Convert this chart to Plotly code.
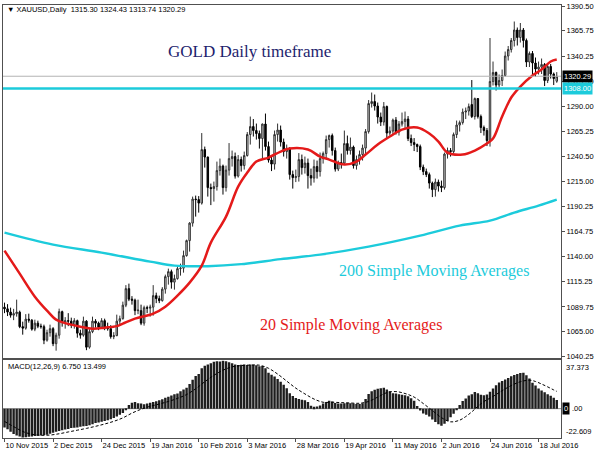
import plotly.graph_objects as go
from plotly.subplots import make_subplots

# XAUUSD daily bars, 10 Nov 2015 .. 26 Jul 2016 (bar index 0..182)
open_ = [1089.5, 1087.8, 1084.6, 1081.5, 1083.0, 1084.5, 1070.0, 1068.5, 1077.5, 1076.5,
         1067.5, 1073.5, 1070.5, 1070.0, 1056.5, 1064.0, 1068.0, 1053.0, 1061.5, 1085.0,
         1074.5, 1076.0, 1075.5, 1071.5, 1076.0, 1063.5, 1061.5, 1075.5, 1049.5, 1065.0,
         1075.5, 1073.5, 1069.5, 1076.0, 1068.5, 1068.0, 1060.0, 1061.0, 1075.5, 1078.0,
         1091.5, 1108.0, 1097.5, 1096.5, 1086.0, 1086.0, 1073.5, 1089.0, 1088.5, 1089.5,
         1101.0, 1098.0, 1096.0, 1107.5, 1120.0, 1125.0, 1114.5, 1118.0, 1128.0, 1128.5,
         1141.0, 1156.0, 1173.5, 1197.5, 1197.0, 1193.5, 1247.0, 1239.5, 1209.0, 1208.0,
         1210.0, 1226.0, 1230.5, 1209.0, 1226.5, 1238.0, 1240.0, 1220.5, 1237.0, 1231.0,
         1241.0, 1262.0, 1270.0, 1266.0, 1263.0, 1258.0, 1272.5, 1250.0, 1236.5, 1232.5,
         1262.0, 1266.5, 1254.5, 1245.0, 1248.0, 1222.0, 1219.0, 1220.0, 1237.0, 1229.0,
         1233.5, 1221.0, 1218.5, 1230.0, 1225.0, 1238.0, 1243.0, 1257.0, 1261.0, 1246.0,
         1227.5, 1234.0, 1233.5, 1253.0, 1246.0, 1249.5, 1231.0, 1237.0, 1242.0, 1248.5,
         1265.0, 1293.0, 1295.0, 1290.5, 1279.5, 1274.5, 1290.0, 1263.5, 1265.5, 1276.5,
         1264.5, 1272.5, 1275.0, 1277.5, 1258.0, 1254.0, 1252.0, 1250.0, 1229.5, 1225.0,
         1222.0, 1213.5, 1207.0, 1214.5, 1210.5, 1209.0, 1242.5, 1246.0, 1245.0, 1262.0,
         1271.5, 1274.0, 1284.5, 1285.5, 1292.0, 1280.0, 1298.0, 1280.0, 1269.0, 1266.0,
         1256.0, 1315.0, 1324.0, 1311.5, 1316.0, 1321.0, 1340.5, 1347.0, 1356.0, 1366.5,
         1359.0, 1366.5, 1356.0, 1334.5, 1343.0, 1333.5, 1327.5, 1329.5, 1332.0, 1316.0,
         1330.0, 1322.5, 1315.30]
high = [1094.0, 1092.5, 1089.0, 1087.8, 1097.0, 1086.0, 1075.0, 1082.5, 1083.0, 1077.5,
        1077.0, 1076.0, 1073.0, 1072.0, 1067.0, 1072.0, 1069.5, 1064.0, 1088.0, 1086.0,
        1079.5, 1083.5, 1079.0, 1078.5, 1077.0, 1067.0, 1080.0, 1076.5, 1067.5, 1080.0,
        1077.5, 1075.0, 1078.5, 1078.0, 1074.0, 1071.5, 1064.5, 1082.0, 1081.0, 1095.0,
        1111.5, 1113.0, 1100.5, 1098.0, 1097.0, 1092.0, 1091.0, 1091.0, 1092.0, 1111.5,
        1104.0, 1101.0, 1109.5, 1122.0, 1128.0, 1127.0, 1122.0, 1131.0, 1133.0, 1146.0,
        1157.0, 1174.5, 1200.0, 1201.0, 1200.5, 1263.5, 1250.0, 1240.0, 1213.0, 1215.0,
        1235.0, 1238.0, 1232.0, 1231.0, 1253.5, 1246.0, 1244.0, 1241.5, 1240.0, 1245.0,
        1264.5, 1280.0, 1277.5, 1273.0, 1266.0, 1273.0, 1283.0, 1255.0, 1240.0, 1266.0,
        1273.0, 1271.0, 1258.0, 1252.0, 1249.5, 1226.0, 1227.0, 1243.5, 1242.0, 1240.0,
        1238.0, 1228.0, 1237.0, 1236.0, 1244.0, 1245.0, 1261.0, 1262.0, 1263.0, 1249.0,
        1236.0, 1243.0, 1266.0, 1261.0, 1259.0, 1251.0, 1241.0, 1246.0, 1252.0, 1267.5,
        1296.5, 1304.0, 1302.0, 1294.0, 1284.0, 1294.5, 1291.0, 1270.0, 1278.0, 1279.5,
        1275.5, 1284.0, 1285.0, 1280.5, 1262.0, 1258.5, 1253.0, 1252.0, 1232.0, 1228.0,
        1224.0, 1215.0, 1218.0, 1217.0, 1216.0, 1244.0, 1249.0, 1248.5, 1264.0, 1276.0,
        1276.0, 1288.0, 1289.0, 1293.0, 1316.5, 1299.0, 1298.5, 1282.0, 1271.0, 1268.5,
        1358.5, 1335.0, 1325.0, 1322.0, 1327.0, 1345.0, 1350.5, 1358.5, 1375.0, 1369.0,
        1373.5, 1368.5, 1358.0, 1345.0, 1345.5, 1339.0, 1335.0, 1338.0, 1333.5, 1333.5,
        1332.5, 1324.0, 1324.43]
low = [1083.5, 1080.6, 1079.0, 1076.5, 1080.0, 1068.5, 1062.0, 1067.0, 1074.0, 1066.0,
       1065.5, 1068.5, 1068.0, 1052.5, 1055.0, 1060.0, 1050.5, 1046.0, 1058.0, 1070.0,
       1068.0, 1070.5, 1068.5, 1068.0, 1059.0, 1058.0, 1060.0, 1046.5, 1048.0, 1063.5,
       1069.0, 1066.5, 1068.5, 1066.5, 1066.0, 1058.0, 1057.5, 1060.5, 1071.5, 1077.0,
       1089.5, 1095.5, 1092.0, 1081.5, 1082.5, 1071.5, 1071.0, 1083.5, 1080.0, 1081.0,
       1093.5, 1093.5, 1095.0, 1103.0, 1112.0, 1108.0, 1107.0, 1117.0, 1121.0, 1124.0,
       1140.0, 1145.0, 1170.0, 1180.0, 1184.0, 1192.0, 1229.0, 1200.0, 1191.5, 1195.0,
       1206.0, 1221.0, 1202.0, 1205.0, 1221.0, 1230.0, 1218.0, 1219.0, 1225.0, 1227.0,
       1240.0, 1252.0, 1260.0, 1257.0, 1248.0, 1237.5, 1246.0, 1234.0, 1225.5, 1227.0,
       1255.0, 1250.0, 1240.0, 1238.0, 1217.0, 1208.0, 1214.5, 1215.0, 1222.0, 1223.0,
       1208.0, 1211.0, 1214.0, 1218.0, 1220.0, 1233.0, 1238.5, 1249.0, 1241.0, 1225.0,
       1225.5, 1228.0, 1232.0, 1242.0, 1242.0, 1228.0, 1227.0, 1232.0, 1236.0, 1242.0,
       1263.0, 1289.0, 1286.0, 1273.0, 1270.5, 1271.0, 1258.0, 1261.0, 1262.0, 1262.0,
       1261.0, 1270.0, 1268.0, 1255.5, 1250.5, 1245.5, 1244.5, 1226.5, 1221.5, 1219.5,
       1208.0, 1199.5, 1200.0, 1205.0, 1204.5, 1207.0, 1238.0, 1240.0, 1243.0, 1258.5,
       1265.0, 1272.0, 1277.5, 1281.0, 1278.5, 1277.0, 1278.0, 1263.5, 1261.0, 1250.5,
       1250.0, 1311.0, 1306.0, 1309.0, 1310.5, 1320.0, 1336.0, 1344.0, 1350.0, 1351.0,
       1354.0, 1349.0, 1329.5, 1329.5, 1320.0, 1320.0, 1322.0, 1322.5, 1310.5, 1313.5,
       1318.0, 1311.5, 1313.74]
close = [1087.8, 1084.6, 1081.5, 1083.0, 1084.5, 1070.0, 1068.5, 1077.5, 1076.5, 1067.5,
         1073.5, 1070.5, 1070.0, 1056.5, 1064.0, 1068.0, 1053.0, 1061.5, 1085.0, 1074.5,
         1076.0, 1075.5, 1071.5, 1076.0, 1063.5, 1061.5, 1075.5, 1049.5, 1065.0, 1075.5,
         1073.5, 1069.5, 1076.0, 1068.5, 1068.0, 1060.0, 1061.0, 1075.5, 1078.0, 1091.5,
         1108.0, 1097.5, 1096.5, 1086.0, 1086.5, 1073.5, 1089.0, 1088.5, 1089.5, 1101.0,
         1098.0, 1096.0, 1107.5, 1120.0, 1125.0, 1114.5, 1118.0, 1128.0, 1128.5, 1141.0,
         1156.0, 1173.5, 1197.5, 1197.0, 1193.5, 1247.0, 1239.5, 1209.0, 1208.0, 1210.0,
         1226.0, 1230.5, 1209.0, 1226.5, 1238.0, 1240.0, 1220.5, 1237.0, 1231.0, 1241.0,
         1262.0, 1270.0, 1266.0, 1263.0, 1258.0, 1272.5, 1250.0, 1236.5, 1232.5, 1262.0,
         1266.5, 1254.5, 1245.0, 1248.0, 1222.0, 1219.0, 1220.0, 1237.0, 1229.0, 1233.5,
         1221.0, 1218.5, 1230.0, 1225.0, 1238.0, 1243.0, 1257.0, 1261.0, 1246.0, 1227.5,
         1234.0, 1233.5, 1253.0, 1246.0, 1249.5, 1231.0, 1237.0, 1242.0, 1248.5, 1265.0,
         1293.0, 1295.0, 1290.5, 1279.5, 1274.5, 1290.0, 1263.5, 1265.5, 1276.5, 1264.5,
         1272.5, 1275.0, 1277.5, 1258.0, 1254.0, 1252.0, 1250.0, 1229.5, 1225.0, 1222.0,
         1213.5, 1207.0, 1214.5, 1210.5, 1209.0, 1242.5, 1246.0, 1245.0, 1262.0, 1271.5,
         1274.0, 1284.5, 1285.5, 1290.0, 1280.0, 1298.0, 1280.0, 1269.0, 1266.0, 1256.0,
         1315.0, 1324.0, 1311.5, 1316.0, 1321.0, 1340.5, 1347.0, 1356.0, 1366.5, 1359.0,
         1366.5, 1356.0, 1334.5, 1343.0, 1333.5, 1327.5, 1329.5, 1332.0, 1316.0, 1330.0,
         1322.5, 1318.0, 1320.29]
bars = list(range(len(close)))

# moving averages (bar index, price)
sma20_idx = [0, 5, 10, 14, 17, 20, 25, 29, 33, 37, 39, 43, 49, 53, 57, 61, 65, 68, 73, 77,
             80, 83, 87, 91, 94, 100, 104, 107, 112, 116, 119, 123, 127, 131, 136, 140, 143,
             146, 151, 155, 159, 161, 164, 167, 170, 174, 177, 180, 182]
sma20_val = [1146, 1123, 1100, 1086, 1077, 1073.5, 1070, 1068, 1069, 1070.5, 1073, 1078, 1083,
             1090, 1101, 1114, 1131, 1154, 1180, 1210, 1224, 1235, 1239, 1245, 1248, 1247,
             1240, 1237, 1232, 1235, 1242, 1252, 1260, 1267, 1269, 1263, 1255, 1244, 1242,
             1246, 1253, 1258, 1280, 1299, 1310, 1321, 1327, 1335, 1337]
sma200_idx = [0, 16, 32, 48, 56, 67, 78, 91, 104, 120, 137, 150, 160, 168, 176, 182]
sma200_val = [1164, 1152, 1144, 1135, 1131, 1130.5, 1132.5, 1137.5, 1142, 1150, 1161, 1171,
              1176, 1184, 1191, 1197]

# MACD(12,26,9) main histogram, one value per bar
macd = [-14.7, -16.1, -18.0, -19.7, -20.9, -21.8, -22.609, -22.3, -22.0, -21.8,
        -21.4, -21.2, -20.9, -20.6, -20.3, -19.5, -18.9, -18.0, -17.5, -16.9,
        -16.3, -15.8, -15.2, -15.0, -14.7, -14.1, -13.8, -13.6, -13.0, -12.1,
        -11.3, -10.8, -10.2, -9.6, -9.1, -8.2, -7.4, -6.2, -4.8, -3.4,
        -1.1, 2.8, 4.5, 5.1, 4.2, 4.0, 3.4, 4.0, 4.5, 5.1,
        5.7, 6.5, 7.4, 8.5, 9.3, 10.2, 11.3, 11.9, 13.6, 15.0,
        16.3, 19.2, 22.5, 25.5, 27.0, 31.5, 33.5, 34.5, 35.5, 36.5,
        37.0, 36.8, 37.373, 36.9, 36.2, 35.4, 34.5, 34.0, 34.2, 34.5,
        34.0, 34.4, 34.3, 33.8, 33.0, 33.2, 31.6, 28.0, 26.5, 25.0,
        23.2, 20.9, 18.6, 16.0, 12.0, 9.8, 8.3, 7.6, 7.0, 6.5,
        5.1, 2.3, 1.4, 1.7, 2.5, 4.0, 5.2, 6.1, 5.5, 4.4,
        4.0, 4.1, 4.2, 4.5, 4.2, 4.0, 3.6, 3.6, 4.2, 7.5,
        11.5, 13.6, 14.8, 15.6, 16.0, 16.3, 15.0, 13.6, 12.1, 11.9,
        11.3, 10.9, 10.4, 9.6, 8.2, 6.2, 2.0, -1.5, -3.8, -4.8,
        -6.2, -8.5, -10.4, -12.2, -13.3, -11.8, -9.6, -6.8, -3.9, -1.0,
        2.8, 6.0, 7.9, 10.2, 11.3, 13.0, 12.1, 10.8, 10.4, 11.0,
        13.1, 15.8, 18.2, 20.3, 21.5, 22.8, 24.0, 25.2, 26.3, 27.0,
        27.8, 28.0, 26.0, 23.5, 20.2, 18.0, 15.8, 14.2, 12.8, 11.3,
        10.0, 8.5, 6.75]
signal_idx = [0, 3, 6, 9, 12, 15, 18, 21, 24, 27, 30, 33, 36, 39, 42, 45, 48, 51, 54, 57,
              60, 63, 66, 69, 72, 75, 78, 81, 84, 87, 90, 93, 96, 99, 102, 105, 108, 111,
              114, 117, 120, 123, 126, 129, 132, 135, 138, 141, 144, 147, 150, 152, 154,
              156, 158, 161, 164, 167, 170, 173, 175, 177, 179, 181, 182]
signal_val = [-10.0, -14.0, -17.8, -20.0, -20.8, -20.6, -19.6, -18.2, -16.8, -15.4, -13.8,
              -12.0, -9.9, -7.2, -3.5, -0.5, 1.8, 3.6, 5.6, 8.0, 11.0, 15.5, 21.0, 26.0,
              30.0, 32.6, 33.6, 34.0, 33.9, 31.5, 27.0, 21.5, 16.0, 11.5, 7.5, 5.0, 5.0,
              4.7, 4.4, 4.2, 5.6, 9.0, 12.5, 13.3, 11.8, 9.0, 4.0, -1.5, -7.0, -10.3,
              -9.0, -6.2, -2.5, 1.8, 5.5, 9.5, 14.0, 18.0, 21.0, 22.2, 21.2, 19.2, 17.0,
              14.6, 13.499]

price_ticks = [1390.50, 1365.75, 1340.25, 1315.50, 1290.00, 1265.25, 1240.50, 1215.00,
               1190.25, 1164.75, 1140.00, 1115.25, 1089.75, 1065.00, 1040.25]
date_pos = [0, 16, 32, 48, 64, 80, 96, 112, 128, 144, 160, 176]
date_text = ['10 Nov 2015', '2 Dec 2015', '24 Dec 2015', '19 Jan 2016', '10 Feb 2016',
             '3 Mar 2016', '28 Mar 2016', '19 Apr 2016', '11 May 2016', '2 Jun 2016',
             '24 Jun 2016', '18 Jul 2016']
level_line = 1308.00
macd_max, macd_min = 37.373, -22.609

CYAN = '#1ccbdb'
RED = '#e41a1a'
FONT = 'Liberation Sans'

fig = make_subplots(rows=2, cols=1, shared_xaxes=True, vertical_spacing=0.005)

# candles
fig.add_trace(go.Candlestick(x=bars, open=open_, high=high, low=low, close=close,
                             increasing=dict(line=dict(color='#303030', width=1), fillcolor='#d8d8d8'),
                             decreasing=dict(line=dict(color='black', width=1), fillcolor='black'),
                             whiskerwidth=0, showlegend=False, hoverinfo='skip'), row=1, col=1)

# moving averages
fig.add_trace(go.Scatter(x=sma200_idx, y=sma200_val, mode='lines', line=dict(color=CYAN, width=2.5, shape='spline'),
                         showlegend=False, hoverinfo='skip'), row=1, col=1)
fig.add_trace(go.Scatter(x=sma20_idx, y=sma20_val, mode='lines', line=dict(color=RED, width=2.5, shape='spline'),
                         showlegend=False, hoverinfo='skip'), row=1, col=1)

# MACD
fig.add_trace(go.Bar(x=bars, y=macd, marker=dict(color='#1e1e1e', line=dict(width=0)),
                     showlegend=False, hoverinfo='skip'), row=2, col=1)
fig.add_trace(go.Scatter(x=signal_idx, y=signal_val, mode='lines',
                         line=dict(color='black', width=1, dash='3px,2px', shape='spline'),
                         showlegend=False, hoverinfo='skip'), row=2, col=1)

# horizontal lines: bid line, 1308 level, macd zero
fig.add_shape(type='line', xref='x domain', yref='y', x0=0, x1=1, y0=close[-1], y1=close[-1],
              line=dict(color='#b4b4b4', width=1))
fig.add_shape(type='line', xref='x domain', yref='y', x0=0, x1=1, y0=level_line, y1=level_line,
              line=dict(color=CYAN, width=2.5))
fig.add_shape(type='line', xref='x2 domain', yref='y2', x0=0, x1=1, y0=0, y1=0,
              line=dict(color='#909090', width=1), layer='below')

axis_common = dict(showgrid=False, zeroline=False, showline=True, linecolor='#505050', linewidth=1,
                   mirror=True, tickfont=dict(family=FONT, size=7.5, color='black'))

fig.update_xaxes(range=[-0.5, 183.4], **axis_common)
fig.update_xaxes(showticklabels=False, ticks='', rangeslider_visible=False, row=1, col=1)
fig.update_xaxes(tickvals=date_pos, ticktext=date_text, ticks='outside', ticklen=3, tickcolor='#505050',
                 tickangle=0, ticklabelposition='outside right', ticklabeloverflow='allow',
                 row=2, col=1)

fig.update_yaxes(side='right', **axis_common)
fig.update_yaxes(range=[1038.3, 1391.5], tickvals=price_ticks, ticktext=['%.2f' % t for t in price_ticks],
                 ticks='outside', ticklen=3, tickcolor='#505050', ticklabeloverflow='allow',
                 domain=[0.1839, 1], row=1, col=1)
fig.update_yaxes(range=[macd_min - 0.3, macd_max + 0.3], showticklabels=False, ticks='',
                 domain=[0, 0.1793], row=2, col=1)

annotations = [
    dict(text='▼ XAUUSD,Daily  %.2f %.2f %.2f %.2f' % (open_[-1], high[-1], low[-1], close[-1]),
         xref='paper', yref='paper', x=0.004, y=0.989, xanchor='left', yanchor='middle',
         font=dict(family=FONT, size=7.5, color='black')),
    dict(text='MACD(12,26,9) %.3f %.3f' % (macd[-1], signal_val[-1]),
         xref='paper', yref='paper', x=0.006, y=0.166, xanchor='left', yanchor='middle',
         font=dict(family=FONT, size=7.5, color='black')),
    dict(text='GOLD Daily timeframe', xref='paper', yref='paper', x=0.442, y=0.892,
         xanchor='center', yanchor='middle',
         font=dict(family='Liberation Serif', size=17, color='#1e1e6e')),
    dict(text='200 Simple Moving Averages', xref='paper', yref='paper', x=0.773, y=0.386,
         xanchor='center', yanchor='middle',
         font=dict(family='Liberation Serif', size=16, color=CYAN)),
    dict(text='20 Simple Moving Averages', xref='paper', yref='paper', x=0.624, y=0.26,
         xanchor='center', yanchor='middle',
         font=dict(family='Liberation Serif', size=16, color=RED)),
    dict(text='%.2f' % close[-1], xref='paper', yref='y', x=1, y=close[-1], xanchor='left', xshift=1,
         yanchor='middle', bgcolor='black', borderpad=1, font=dict(family=FONT, size=7.5, color='white')),
    dict(text='%.2f' % level_line, xref='paper', yref='y', x=1, y=level_line, xanchor='left', xshift=1,
         yanchor='middle', bgcolor=CYAN, borderpad=1, font=dict(family=FONT, size=7.5, color='white')),
    dict(text='%.3f' % macd_max, xref='paper', yref='y2', x=1, y=macd_max, xanchor='left', yanchor='top',
         xshift=3, font=dict(family=FONT, size=7.5, color='black')),
    dict(text='0', xref='paper', yref='y2', x=1, y=0, xanchor='left', yanchor='middle', xshift=1,
         bgcolor='black', borderpad=1, font=dict(family=FONT, size=7.5, color='white')),
    dict(text='.00', xref='paper', yref='y2', x=1, y=0, xanchor='left', yanchor='middle', xshift=9,
         font=dict(family=FONT, size=7.5, color='black')),
    dict(text='%.3f' % macd_min, xref='paper', yref='y2', x=1, y=macd_min, xanchor='left', yanchor='bottom',
         xshift=3, font=dict(family=FONT, size=7.5, color='black')),
]
for a in annotations:
    a.setdefault('showarrow', False)

fig.update_layout(width=610, height=457, margin=dict(l=2, r=49, t=3, b=19),
                  paper_bgcolor='white', plot_bgcolor='white', bargap=0.2,
                  annotations=annotations, showlegend=False)

# the page body has a default 8px margin; drop it so the chart sits at the window corner
fig.write_html("out.html", config={'displayModeBar': False},
               post_script="document.body.style.margin='0';")
